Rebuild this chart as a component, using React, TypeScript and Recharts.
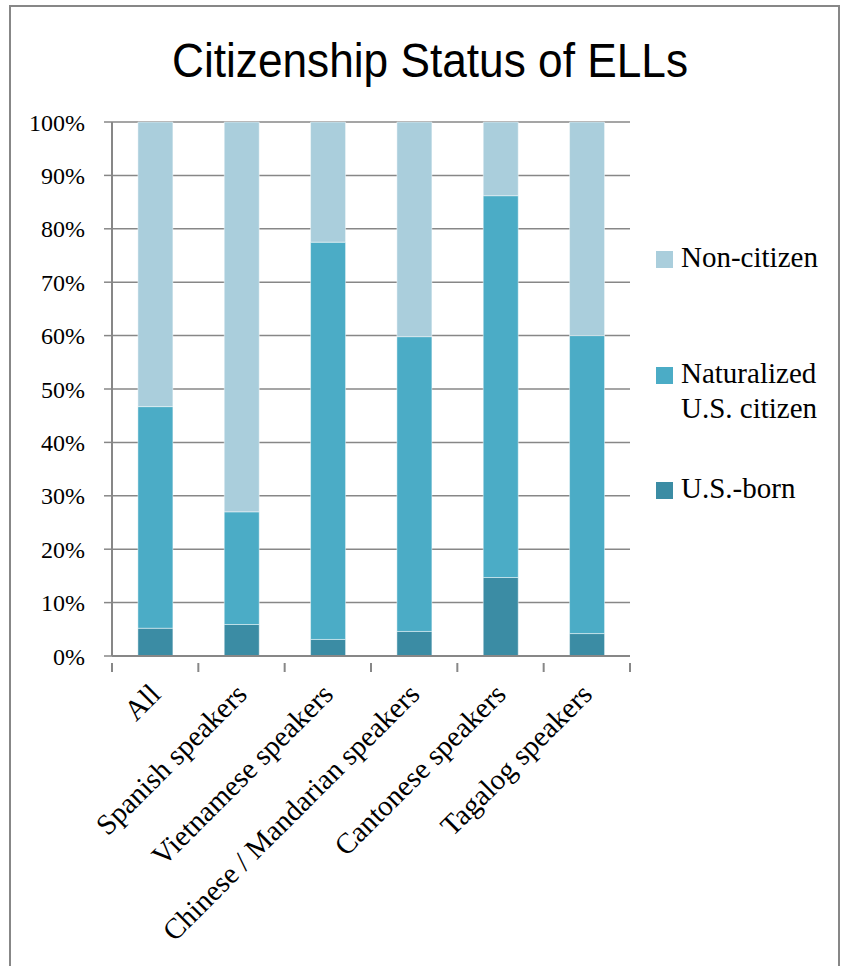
import React from 'react';
import {
  BarChart,
  Bar,
  XAxis,
  YAxis,
  CartesianGrid,
} from 'recharts';

const categories = [
  'All',
  'Spanish speakers',
  'Vietnamese speakers',
  'Chinese / Mandarian speakers',
  'Cantonese speakers',
  'Tagalog speakers',
];
const usBorn = [5.2, 5.9, 3.1, 4.6, 14.7, 4.2];
const naturalized = [41.5, 21.1, 74.4, 55.2, 71.5, 55.8];
const nonCitizen = [53.3, 73.0, 22.5, 40.2, 13.8, 40.0];
const yTicks = [0, 10, 20, 30, 40, 50, 60, 70, 80, 90, 100];

const seriesNames = {
  born: 'U.S.-born',
  nat: 'Naturalized U.S. citizen',
  non: 'Non-citizen',
};
const colors = {
  born: '#3b8ca4',
  nat: '#4bacc6',
  non: '#aacedc',
};

const data = categories.map((c, i) => ({
  name: c,
  born: usBorn[i],
  nat: naturalized[i],
  non: nonCitizen[i],
}));

const CHART_W = 849;
const CHART_H = 966;
const MARGIN = { top: 122, right: 219, bottom: 0, left: 0 };
const Y_AXIS_W = 112;
const X_AXIS_H = 310;
const AXIS_COLOR = '#878787';
const SERIF = '"Liberation Serif", "Times New Roman", serif';

// width of one category band, used to put the x ticks on band edges
const bandWidth = (CHART_W - MARGIN.left - MARGIN.right - Y_AXIS_W) / categories.length;

const XTick = (props: any) => {
  const { x, y, payload, index } = props;
  const left = x - bandWidth / 2;
  const right = x + bandWidth / 2;
  const ax = x + 7;
  const ay = y + 32;
  return (
    <g>
      <line x1={left} y1={y - 1} x2={left} y2={y + 8} stroke={AXIS_COLOR} strokeWidth={2} />
      {index === categories.length - 1 && (
        <line x1={right} y1={y - 1} x2={right} y2={y + 8} stroke={AXIS_COLOR} strokeWidth={2} />
      )}
      <text
        x={ax}
        y={ay}
        textAnchor="end"
        fontFamily={SERIF}
        fontSize={29}
        fill="#000"
        transform={`rotate(-45, ${ax}, ${ay})`}
      >
        {payload.value}
      </text>
    </g>
  );
};

const legendOrder: Array<'non' | 'nat' | 'born'> = ['non', 'nat', 'born'];

const LegendBox = () => (
  <div
    style={{
      position: 'absolute',
      left: 656,
      top: 240,
      width: 190,
      fontFamily: SERIF,
      fontSize: 29,
      color: '#000',
    }}
  >
    {legendOrder.map((k) => (
      <div key={k} style={{ position: 'relative', height: 115.5 }}>
        <div
          style={{
            position: 'absolute',
            left: 0,
            top: 11,
            width: 17,
            height: 17,
            background: colors[k],
          }}
        />
        <div style={{ position: 'absolute', left: 25, top: 0, lineHeight: '35px', width: 170 }}>
          {k === 'nat' ? (
            <>
              Naturalized
              <br />
              U.S. citizen
            </>
          ) : (
            seriesNames[k]
          )}
        </div>
      </div>
    ))}
  </div>
);

export default function App() {
  return (
    <div
      style={{
        position: 'absolute',
        left: 0,
        top: 0,
        width: CHART_W,
        height: CHART_H,
        background: '#fff',
        overflow: 'hidden',
      }}
    >
      <div
        style={{
          position: 'absolute',
          left: 9,
          top: 5,
          width: 831,
          height: 1000,
          border: `2px solid ${AXIS_COLOR}`,
          boxSizing: 'border-box',
        }}
      />
      <svg
        width={CHART_W}
        height={110}
        style={{ position: 'absolute', left: 0, top: 0 }}
      >
        <text
          x={430}
          y={77}
          textAnchor="middle"
          fontFamily='"Liberation Sans", Arial, sans-serif'
          fontSize={49}
          textLength={516}
          lengthAdjust="spacingAndGlyphs"
          fill="#000"
        >
          Citizenship Status of ELLs
        </text>
      </svg>
      <div style={{ position: 'absolute', left: 0, top: 0 }}>
        <BarChart
          width={CHART_W}
          height={CHART_H}
          data={data}
          margin={MARGIN}
          barCategoryGap="30%"
        >
          <CartesianGrid
            vertical={false}
            stroke={AXIS_COLOR}
            strokeWidth={1.5}
            strokeOpacity={1}
          />
          <XAxis
            dataKey="name"
            height={X_AXIS_H}
            interval={0}
            tickLine={false}
            axisLine={{ stroke: AXIS_COLOR, strokeWidth: 2 }}
            tick={<XTick />}
          />
          <YAxis
            width={Y_AXIS_W}
            domain={[0, 100]}
            ticks={yTicks}
            interval={0}
            tickFormatter={(v) => `${v}%`}
            tickSize={8}
            tickMargin={19}
            tickLine={{ stroke: AXIS_COLOR, strokeWidth: 1.5 }}
            axisLine={{ stroke: AXIS_COLOR, strokeWidth: 2 }}
            tick={{ fontFamily: SERIF, fontSize: 24, fill: '#000' }}
          />
          <Bar
            dataKey="born"
            name={seriesNames.born}
            stackId="a"
            fill={colors.born}
            stroke="#ffffff"
            strokeOpacity={0.45}
            strokeWidth={1}
            isAnimationActive={false}
          />
          <Bar
            dataKey="nat"
            name={seriesNames.nat}
            stackId="a"
            fill={colors.nat}
            stroke="#ffffff"
            strokeOpacity={0.45}
            strokeWidth={1}
            isAnimationActive={false}
          />
          <Bar
            dataKey="non"
            name={seriesNames.non}
            stackId="a"
            fill={colors.non}
            stroke="#ffffff"
            strokeOpacity={0.45}
            strokeWidth={1}
            isAnimationActive={false}
          />
        </BarChart>
      </div>
      <LegendBox />
    </div>
  );
}
